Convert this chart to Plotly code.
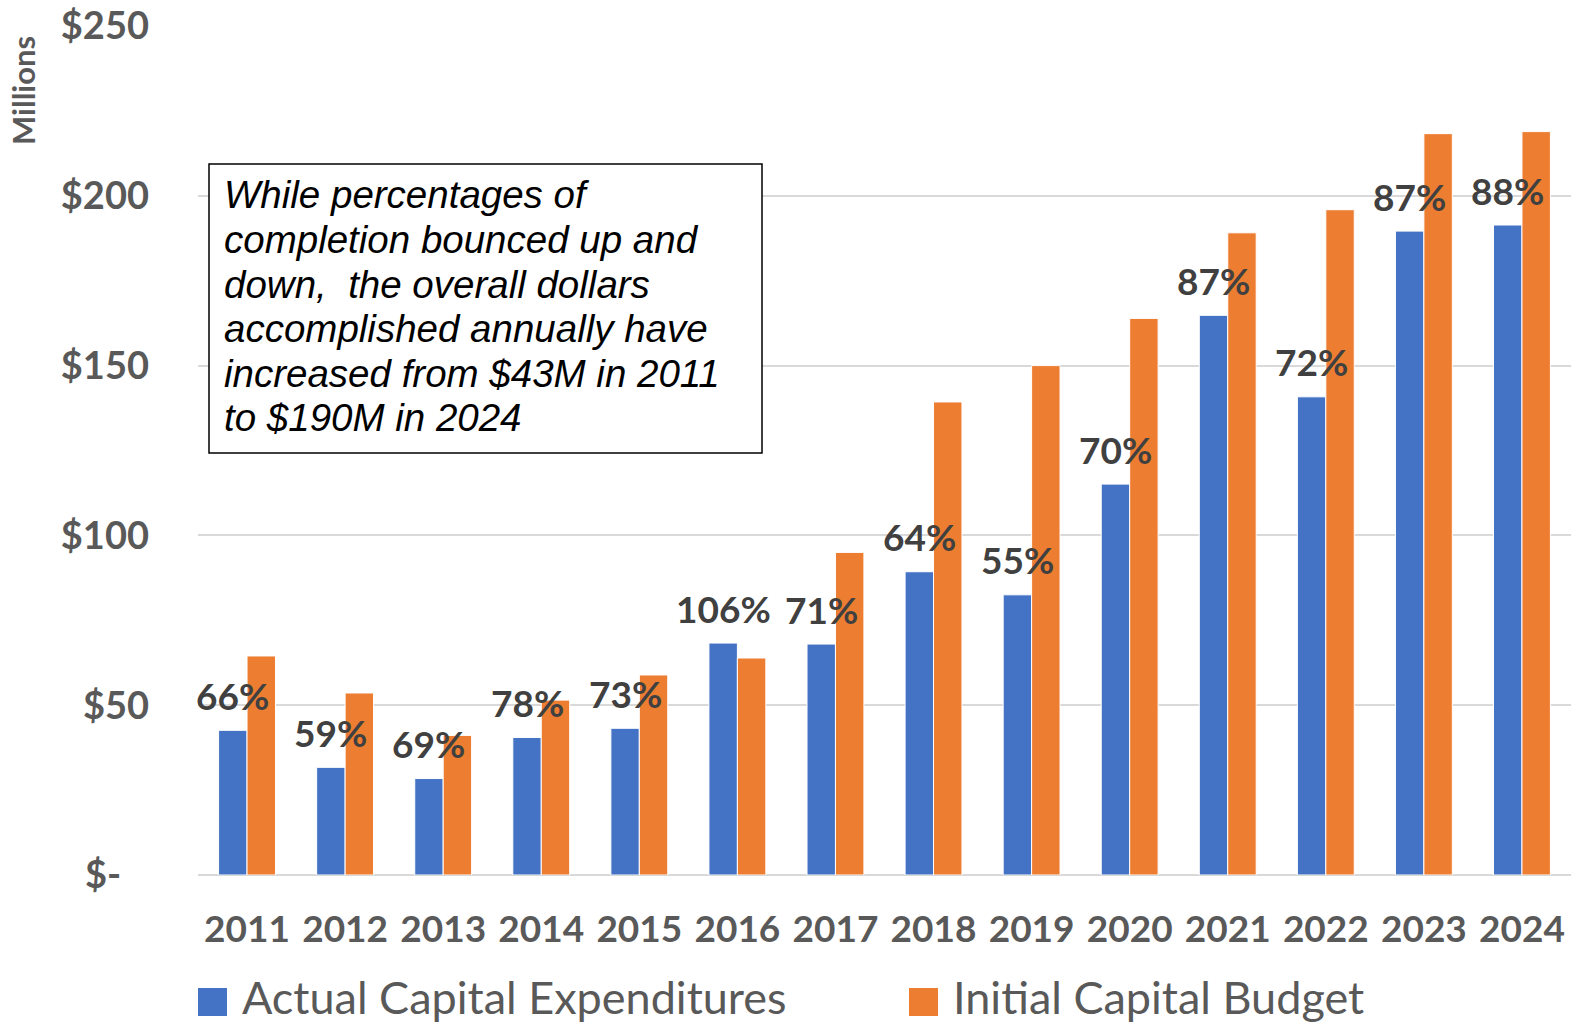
import plotly.graph_objects as go

years = ["2011", "2012", "2013", "2014", "2015", "2016", "2017",
         "2018", "2019", "2020", "2021", "2022", "2023", "2024"]
actual = [42.6, 31.7, 28.4, 40.5, 43.2, 68.3, 68.0,
          89.3, 82.5, 115.1, 164.8, 140.8, 189.6, 191.4]
budget = [64.5, 53.6, 41.1, 51.5, 58.9, 63.9, 95.0,
          139.3, 150.0, 163.9, 189.1, 195.9, 218.3, 218.9]
pct_labels = ["66%", "59%", "69%", "78%", "73%", "106%", "71%",
              "64%", "55%", "70%", "87%", "72%", "87%", "88%"]
y_tickvals = [0, 50, 100, 150, 200, 250]
y_ticktext = ["$-\u00a0\u00a0\u00a0", "$50", "$100", "$150", "$200", "$250"]
series_names = ["Actual Capital Expenditures", "Initial Capital Budget"]
colors = ["#4472C4", "#ED7D31"]
note_lines = ["While percentages of", "completion bounced up and",
              "down,  the overall dollars", "accomplished annually have",
              "increased from $43M in 2011", "to $190M in 2024"]

W, H = 1573, 1027
ML, MR, MT, MB = 198, 2, 26, 152
BARGAP = 0.42
plot_w = W - ML - MR
plot_h = H - MT - MB
cat_w = plot_w / len(years)
bar_w = cat_w * (1 - BARGAP) / 2

GRAY = "#595959"
fig = go.Figure()
fig.add_trace(go.Bar(x=years, y=actual, name=series_names[0], marker_color=colors[0],
                     marker_line_color="white", marker_line_width=1, showlegend=False))
fig.add_trace(go.Bar(x=years, y=budget, name=series_names[1], marker_color=colors[1],
                     marker_line_color="white", marker_line_width=1, showlegend=False))

annotations = []
for i, (v, t) in enumerate(zip(actual, pct_labels)):
    annotations.append(dict(x=i, y=v, xref="x", yref="y", text=t, showarrow=False,
                            xshift=-bar_w / 2, yshift=35, yanchor="middle",
                            font=dict(family="Lato", size=37, color="#404040", weight="bold")))

def px_x(p):
    return (p - ML) / plot_w

def px_y(p):
    return (H - MB - p) / plot_h

# note text, one annotation per line
line_y = [195, 239, 285, 328, 373, 418]
for txt, ly in zip(note_lines, line_y):
    annotations.append(dict(x=px_x(222), y=px_y(ly), xref="paper", yref="paper", text=txt,
                            showarrow=False, xanchor="left", yanchor="middle", align="left",
                            font=dict(family="Liberation Sans", size=38.5, color="black",
                                      style="italic")))
# y title
annotations.append(dict(x=px_x(23), y=px_y(91), xref="paper", yref="paper", text="Millions",
                        showarrow=False, textangle=-90, xanchor="center", yanchor="middle",
                        font=dict(family="Lato", size=31, color=GRAY, weight="bold")))
# legend texts
leg_text_x = [240, 951]
for name, tx in zip(series_names, leg_text_x):
    annotations.append(dict(x=px_x(tx), y=px_y(997), xref="paper", yref="paper", text=name,
                            showarrow=False, xanchor="left", yanchor="middle",
                            font=dict(family="Lato", size=45, color=GRAY)))

shapes = [dict(type="rect", xref="paper", yref="paper", x0=px_x(209), x1=px_x(762),
               y0=px_y(453), y1=px_y(164), line=dict(color="black", width=1.5),
               fillcolor="white", layer="above")]
leg_sq_x = [198, 909]
for c, sx in zip(colors, leg_sq_x):
    shapes.append(dict(type="rect", xref="paper", yref="paper", x0=px_x(sx), x1=px_x(sx + 29),
                       y0=px_y(1016), y1=px_y(988), line=dict(width=0), fillcolor=c))

fig.update_layout(
    width=W, height=H,
    margin=dict(l=ML, r=MR, t=MT, b=MB),
    paper_bgcolor="white", plot_bgcolor="white",
    barmode="group", bargap=BARGAP, bargroupgap=0.0,
    showlegend=False,
    annotations=annotations, shapes=shapes,
    xaxis=dict(type="category", range=[-0.5, len(years) - 0.5], showgrid=False,
               zeroline=False, showline=False, ticks="",
               tickfont=dict(family="Lato", size=37, color=GRAY, weight="bold"),
               ticklabelstandoff=29),
    yaxis=dict(range=[0, 250], tickvals=y_tickvals, ticktext=y_ticktext,
               showgrid=True, gridcolor="#D9D9D9", gridwidth=2, zeroline=True,
               zerolinecolor="#D9D9D9", zerolinewidth=2, showline=False, ticks="",
               tickfont=dict(family="Lato", size=38, color=GRAY, weight="bold"),
               ticklabelstandoff=48),
)
fig.write_html("out.html")
